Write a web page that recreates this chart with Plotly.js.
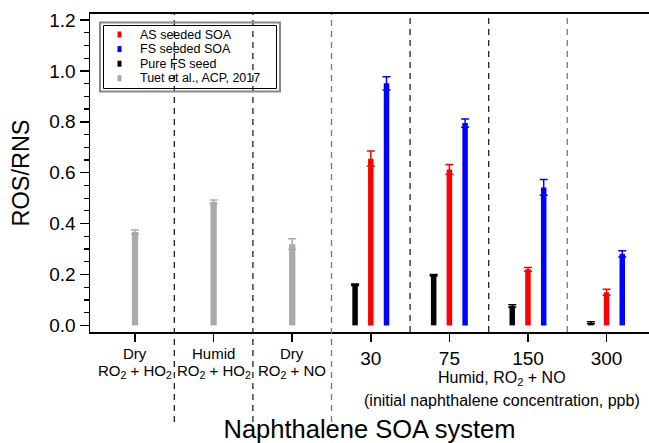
<!DOCTYPE html>
<html>
<head>
<meta charset="utf-8">
<script src="https://cdn.plot.ly/plotly-3.0.1.min.js"></script>
<style>html,body{margin:0;padding:0;background:#fff;}#chart{width:649px;height:443px;}</style>
</head>
<body>
<div id="chart"></div>
<script>
// ---- data ----
const categories = ['Dry<br>RO<sub>2</sub> + HO<sub>2</sub>', 'Humid<br>RO<sub>2</sub> + HO<sub>2</sub>', 'Dry<br>RO<sub>2</sub> + NO', '30', '75', '150', '300'];
const tuetCats = ['Dry<br>RO<sub>2</sub> + HO<sub>2</sub>', 'Humid<br>RO<sub>2</sub> + HO<sub>2</sub>', 'Dry<br>RO<sub>2</sub> + NO'];
const concCats = ['30', '75', '150', '300'];

const tuetVals = [0.367, 0.485, 0.319];
const tuetErr  = [0.008, 0.008, 0.021];

const pureFSVals = [0.160, 0.197, 0.076, 0.010];
const pureFSErr  = [0.003, 0.003, 0.005, 0.004];

const asVals = [0.655, 0.613, 0.220, 0.130];
const asErr  = [0.030, 0.019, 0.007, 0.012];

const fsVals = [0.951, 0.795, 0.542, 0.281];
const fsErr  = [0.026, 0.016, 0.031, 0.012];

const seriesNames = ['AS seeded SOA', 'FS seeded SOA', 'Pure FS seed', 'Tuet et al., ACP, 2017'];
const seriesColors = ['#ff0000', '#0000ff', '#000000', '#aaaaaa'];

const yTitle = 'ROS/RNS';
const xTitle = 'Naphthalene SOA system';
const subLabel1 = 'Humid, RO<sub>2</sub> + NO';
const subLabel2 = '(initial naphthalene concentration, ppb)';

// ---- layout helpers ----
const W = 649, H = 443, ML = 90, MR = 0, MT = 14, MB = 111;
const pw = W - ML - MR, ph = H - MT - MB;
const px2x = px => (px - ML) / pw;
const py2y = py => (H - MB - py) / ph;

function barTrace(name, cats, vals, errs, color, width, offset) {
  return {
    type: 'bar', name: name, x: cats, y: vals,
    width: width, offset: offset,
    marker: {color: color, line: {width: 0}},
    error_y: {type: 'data', array: errs, visible: true, color: color, thickness: 1.5, width: 4},
    showlegend: false
  };
}

const traces = [
  barTrace(seriesNames[3], tuetCats, tuetVals, tuetErr, seriesColors[3], 0.08, -0.04),
  barTrace(seriesNames[2], concCats, pureFSVals, pureFSErr, seriesColors[2], 0.07, -0.235),
  barTrace(seriesNames[0], concCats, asVals, asErr, seriesColors[0], 0.07, -0.035),
  barTrace(seriesNames[1], concCats, fsVals, fsErr, seriesColors[1], 0.07, 0.165)
];

const isNum = c => /^\d+$/.test(c);
const tickText = categories.map(c => isNum(c) ? c : '');

const shapes = [];
// dashed separators between groups
for (let i = 0; i < categories.length - 1; i++) {
  const extend = i < 3;
  shapes.push({
    type: 'line', xref: 'x', yref: 'paper',
    x0: i + 0.5, x1: i + 0.5,
    y0: extend ? py2y(422) : 0, y1: 1,
    line: {color: (i === 2 || i === 5) ? '#777' : '#222', width: 1.3, dash: '6px,5px'}
  });
}
// legend boxes (double frame)
shapes.push({type: 'rect', xref: 'paper', yref: 'paper', x0: px2x(100), x1: px2x(280), y0: py2y(91.5), y1: py2y(22.5), line: {color: '#888', width: 2}, fillcolor: 'rgba(0,0,0,0)'});
shapes.push({type: 'rect', xref: 'paper', yref: 'paper', x0: px2x(103.5), x1: px2x(276.5), y0: py2y(88.5), y1: py2y(25.5), line: {color: '#000', width: 1}, fillcolor: 'rgba(0,0,0,0)'});

const annotations = [];
const legendOrder = [0, 1, 2, 3];
legendOrder.forEach((k, i) => {
  const yc = 34.5 + 14.6 * i;
  shapes.push({type: 'rect', xref: 'paper', yref: 'paper', x0: px2x(117.5), x1: px2x(121.5), y0: py2y(yc + 3), y1: py2y(yc - 3), line: {width: 0}, fillcolor: seriesColors[k]});
  annotations.push({xref: 'paper', yref: 'paper', x: px2x(137.5), y: py2y(yc), xanchor: 'left', yanchor: 'middle', showarrow: false, text: seriesNames[k], font: {size: 12.5, color: '#000'}});
});
// condition labels (two lines each) under the first three groups
categories.filter(c => !isNum(c)).forEach(c => {
  const lines = c.split('<br>');
  annotations.push({xref: 'x', yref: 'paper', x: c, y: py2y(353), xanchor: 'center', yanchor: 'middle', showarrow: false, text: lines[0], font: {size: 15, color: '#000'}});
  annotations.push({xref: 'x', yref: 'paper', x: c, y: py2y(371), xanchor: 'center', yanchor: 'middle', showarrow: false, text: lines[1], font: {size: 15, color: '#000'}});
});
annotations.push({xref: 'paper', yref: 'paper', x: px2x(502), y: py2y(378.5), xanchor: 'center', yanchor: 'middle', showarrow: false, text: subLabel1, font: {size: 16, color: '#000'}});
annotations.push({xref: 'paper', yref: 'paper', x: px2x(502), y: py2y(400), xanchor: 'center', yanchor: 'middle', showarrow: false, text: subLabel2, font: {size: 16, color: '#000'}});

const layout = {
  width: W, height: H,
  margin: {l: ML, r: MR, t: MT, b: MB, pad: 0},
  paper_bgcolor: '#fff', plot_bgcolor: '#fff',
  font: {family: 'Liberation Sans, Arial, Helvetica, sans-serif', color: '#000'},
  barmode: 'overlay',
  showlegend: false,
  xaxis: {
    type: 'category', categoryorder: 'array', categoryarray: categories,
    tickvals: categories, ticktext: tickText,
    range: [-0.573, 6.54],
    showline: true, linewidth: 2, linecolor: '#000', mirror: true,
    ticks: 'outside', ticklen: 8, tickwidth: 1.5, tickcolor: '#000',
    tickfont: {size: 19}, ticklabelstandoff: 0,
    showgrid: false, zeroline: false,
    title: {text: xTitle, font: {size: 25.5}, standoff: 62},
    automargin: false
  },
  yaxis: {
    range: [-0.026, 1.2236],
    dtick: 0.2, tick0: 0, tickformat: '.1f',
    showline: true, linewidth: 1.5, linecolor: '#000',
    ticks: 'outside', ticklen: 9, tickwidth: 1.5, tickcolor: '#000',
    minor: {dtick: 0.05, ticks: 'outside', ticklen: 5, tickwidth: 1.2, tickcolor: '#000'},
    tickfont: {size: 19},
    showgrid: false, zeroline: false,
    title: {text: yTitle, font: {size: 23.5}, standoff: 13},
    automargin: false
  },
  shapes: shapes,
  annotations: annotations
};

Plotly.newPlot('chart', traces, layout, {displayModeBar: false, staticPlot: true});
</script>
</body>
</html>
